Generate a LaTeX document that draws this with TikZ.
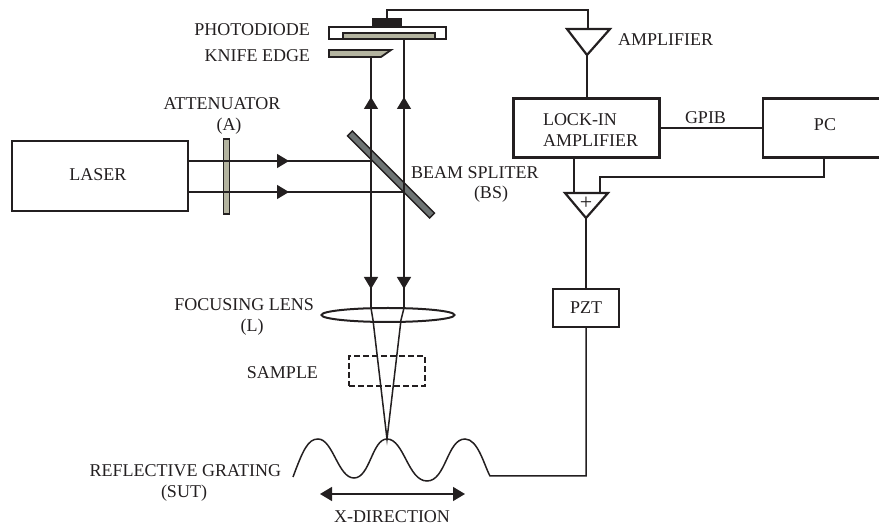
\documentclass[tikz,border=0pt]{standalone}
\usepackage{fontspec}
\setmainfont{Liberation Serif}
\usetikzlibrary{arrows.meta,shapes.geometric}
\definecolor{plate}{HTML}{B4B4A0}
\definecolor{mirror}{HTML}{6E7474}
\definecolor{ink}{HTML}{231F20}

\begin{document}
\begin{tikzpicture}[x=1pt,y=-1pt,line width=1.5pt,draw=ink,text=ink,
  every node/.style={font=\fontsize{18}{20}\selectfont,outer sep=0pt,inner sep=0pt},
  box/.style={draw,rectangle,line width=2.4pt},
  tag/.style={align=center},
  tagl/.style={anchor=east},
  optic/.style={draw,line width=2pt},
  beamin/.style={-{Triangle[length=12pt,width=14pt]}},
  amptri/.style={draw,line width=2.2pt,line join=miter}]
\useasboundingbox (0,0) rectangle (879,526);
\node[box,minimum width=176pt,minimum height=70pt] (laser) at (100,176) {};
\node at (98,175) {LASER};
\node[box,minimum width=146pt,minimum height=59pt] (lockin) at (586.5,128) {};
\node[box,minimum width=118pt,minimum height=59pt] (pc) at (822,128) {};
\node at (825,125) {PC};
\node[anchor=west] at (543,120) {LOCK-IN};
\node[anchor=west] at (543,141) {AMPLIFIER};
\node[box,line width=2.2pt,minimum width=66pt,minimum height=38pt] (pzt) at (586,308) {PZT};
\node[draw,fill=plate,line width=1.4pt,minimum width=6pt,minimum height=75pt] (atten) at (226.5,176.5) {};
\node[draw,fill=mirror,line width=1.4pt,minimum width=7pt,minimum height=116pt,rotate=45] (split) at (391,174.5) {};
\node[optic,draw,ellipse,minimum width=133pt,minimum height=14pt] (lens) at (388,315) {};
\node[draw,dash pattern=on 6pt off 3pt,line width=2.2pt,minimum width=76pt,minimum height=30pt] (sample) at (387,371) {};
% photodiode
\node[box,line width=2pt,minimum width=117pt,minimum height=12pt] (diode) at (387.5,33) {};
\node[draw,fill=plate,line width=1.2pt,minimum width=92pt,minimum height=6pt] (chip) at (389,36) {};
\node[fill=ink,minimum width=30pt,minimum height=9pt] (pad) at (387,22.5) {};
\draw[fill=plate,line width=1.8pt] (329,50) -- (391,50) -- (381,57) -- (329,57) -- cycle;
% amplifiers
\draw[amptri] (567,29) coordinate (ampa) -- (610,29) -- (587,55) coordinate (ampb) -- cycle;
\draw[amptri] (565,193) -- (608,193) -- (586,218) coordinate (addb) -- cycle;
\node[font=\fontsize{22}{24}\selectfont] at (586,203) {+};
% labels
\node[tagl] at (310,30) {PHOTODIODE};
\node[tagl] at (310,56) {KNIFE EDGE};
\node[tag] at (222,104) {ATTENUATOR};
\node[tag] at (229,126) {(A)};
\node[anchor=west] at (411,173) {BEAM SPLITER};
\node[tag] at (491,194) {(BS)};
\node[tagl] at (314,305) {FOCUSING LENS};
\node[tag] at (252,327) {(L)};
\node[tagl] at (318,373) {SAMPLE};
\node[tagl] at (281,471) {REFLECTIVE GRATING};
\node[tag] at (184,493) {(SUT)};
\node[tag] at (392,517) {X-DIRECTION};
\node[anchor=west] at (618,40) {AMPLIFIER};
\node[tag] at (705.5,118) {GPIB};
% beams
\coordinate (b1) at (188,161);
\coordinate (b1m) at (289,161);
\coordinate (b1e) at (371,161);
\coordinate (b2) at (188,192);
\coordinate (b2m) at (289,192);
\coordinate (b2e) at (404,192);
\coordinate (u1) at (371,97);
\coordinate (u2) at (404,97);
\coordinate (k1) at (371,57);
\coordinate (k2) at (404,39);
\coordinate (d1) at (371,289);
\coordinate (d2) at (404,289);
\coordinate (l1) at (371,308);
\coordinate (l2) at (404,308);
\coordinate (m1) at (373,320);
\coordinate (m2) at (401,320);
\coordinate (peak) at (387,439);
\path[draw] (b1) edge (b1e) (b1) edge[beamin] (b1m)
      (b2) edge (b2e) (b2) edge[beamin] (b2m)
      (k1) edge (l1) (k2) edge (l2)
      (b1e) edge[beamin] (u1) (b2e) edge[beamin] (u2)
      (b1e) edge[beamin] (d1) (b2e) edge[beamin] (d2);
\draw (l1) -- (m1) -- (peak) -- (m2) -- (l2);
% grating
\draw (293,477) .. controls (303,450) and (308,439) .. (318,439)
  .. controls (333,439) and (338,478) .. (354,478)
  .. controls (370,478) and (372,439) .. (peak)
  .. controls (404,439) and (408,481) .. (427,481)
  .. controls (446,481) and (447,439) .. (465,439)
  .. controls (478,439) and (484,465) .. (490,476)
  -- (586,476) -- (pzt.south);
\coordinate (xa) at (320,494);
\coordinate (xb) at (465,494);
\draw[{Triangle[length=12pt,width=14pt]}-{Triangle[length=12pt,width=14pt]}] (xa) -- (xb);
% wires
\coordinate (ampin) at (588,29);
\draw (pad.north) -- (387,10) -- (588,10) -- (ampin);
\draw (ampb) -- (ampb|-lockin.north);
\draw (lockin.east) -- (pc.west);
\draw (574,158) -- (574,193);
\draw (824,158) -- (824,177) -- (600,177) -- (600,193);
\draw (addb) -- (pzt.north);
\end{tikzpicture}
\end{document}
